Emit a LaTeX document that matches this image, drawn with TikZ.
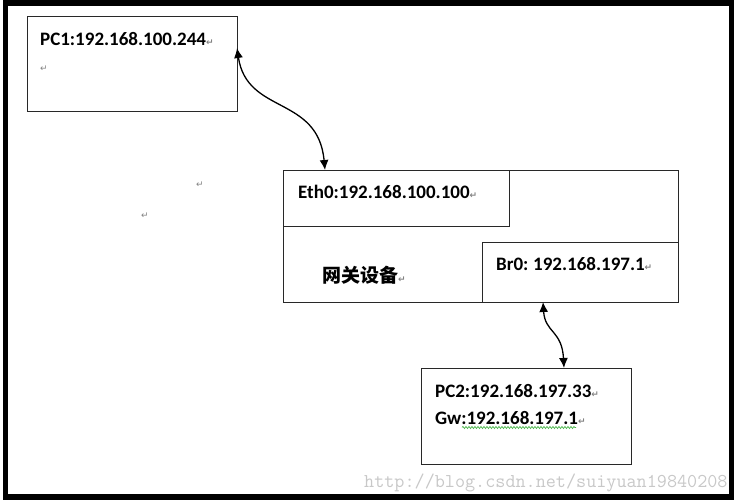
\documentclass[tikz,border=0pt]{standalone}
\usepackage{fontspec}
\setmainfont{Carlito}
\newfontfamily\cjk{Noto Sans CJK SC}
\newfontfamily\symf{DejaVu Sans}
\usetikzlibrary{arrows.meta,decorations.pathmorphing}
\definecolor{retgray}{RGB}{130,130,130}
\definecolor{boxline}{RGB}{40,40,40}
\definecolor{wmgray}{RGB}{200,200,200}
\definecolor{wavegreen}{RGB}{70,180,70}
\newcommand{\retmark}{{\symf\fontsize{9}{9}\selectfont\color{retgray}↵}}
\begin{document}
\begin{tikzpicture}[x=1pt,y=-1pt,
  box/.style={draw=boxline,line width=1pt,inner sep=0pt,outer sep=0pt,anchor=north west},
  lbl/.style={font=\fontsize{19}{19}\selectfont\bfseries,anchor=base west,inner sep=0pt},
  cnlbl/.style={font=\fontsize{19}{19}\selectfont\cjk\bfseries,anchor=base west,inner sep=0pt},
  retlbl/.style={anchor=base west,inner sep=0pt},
  wm/.style={font=\fontsize{19.6}{19.6}\selectfont\ttfamily,text=wmgray,anchor=base west,inner sep=0pt},
  conn/.style={line width=1.3pt,{Latex[length=10pt,width=9pt]}-{Latex[length=10pt,width=9pt]}},
  wavy/.style={draw=wavegreen,line width=0.7pt,decorate,decoration={snake,amplitude=1pt,segment length=3pt}}]
\useasboundingbox (0,0) rectangle (736,501);
\draw[line width=5.5pt] (5.5,2.8) rectangle (731.5,497);
% boxes
\node[box,minimum width=210pt,minimum height=95pt] (pc1) at (27,16) {};
\node[box,minimum width=395pt,minimum height=132pt] (gw) at (283,170) {};
\node[box,minimum width=226pt,minimum height=56pt] (eth0) at (283,170) {};
\node[box,minimum width=196pt,minimum height=60pt] (br0) at (482,242) {};
\node[box,minimum width=210pt,minimum height=96pt] (pc2) at (421,368) {};
% texts
\node[lbl] (t1) at (40,45) {PC1:192.168.100.244\retmark};
\node[retlbl] (r1) at (40,71) {\retmark};
\node[retlbl] (r2) at (196,187) {\retmark};
\node[retlbl] (r3) at (141,218) {\retmark};
\node[lbl] (t2) at (298,198) {Eth0:192.168.100.100\retmark};
\node[cnlbl] (t3) at (322,282) {网关设备\retmark};
\node[lbl] (t4) at (496,270) {Br0:\hspace{-1pt} 192.168.197.1\retmark};
\node[lbl] (t5) at (435,397) {PC2:192.168.197.33\retmark};
\node[lbl] (t6) at (435,424) {Gw:192.168.197.1\retmark};
\draw[wavy] (462,427.5) -- (576,427.5);
\node[wm] (wm) at (364,487) {http://blog.csdn.net/suiyuan19840208};
% connectors
\draw[conn] ([yshift=-32pt]pc1.north east) .. controls +(10,67) and +(-7,-75) .. ([xshift=42pt]eth0.north west);
\draw[conn] ([xshift=61pt]br0.south west) .. controls +(2,31) and +(-2,-38) .. ([xshift=143pt]pc2.north west);
\end{tikzpicture}
\end{document}
